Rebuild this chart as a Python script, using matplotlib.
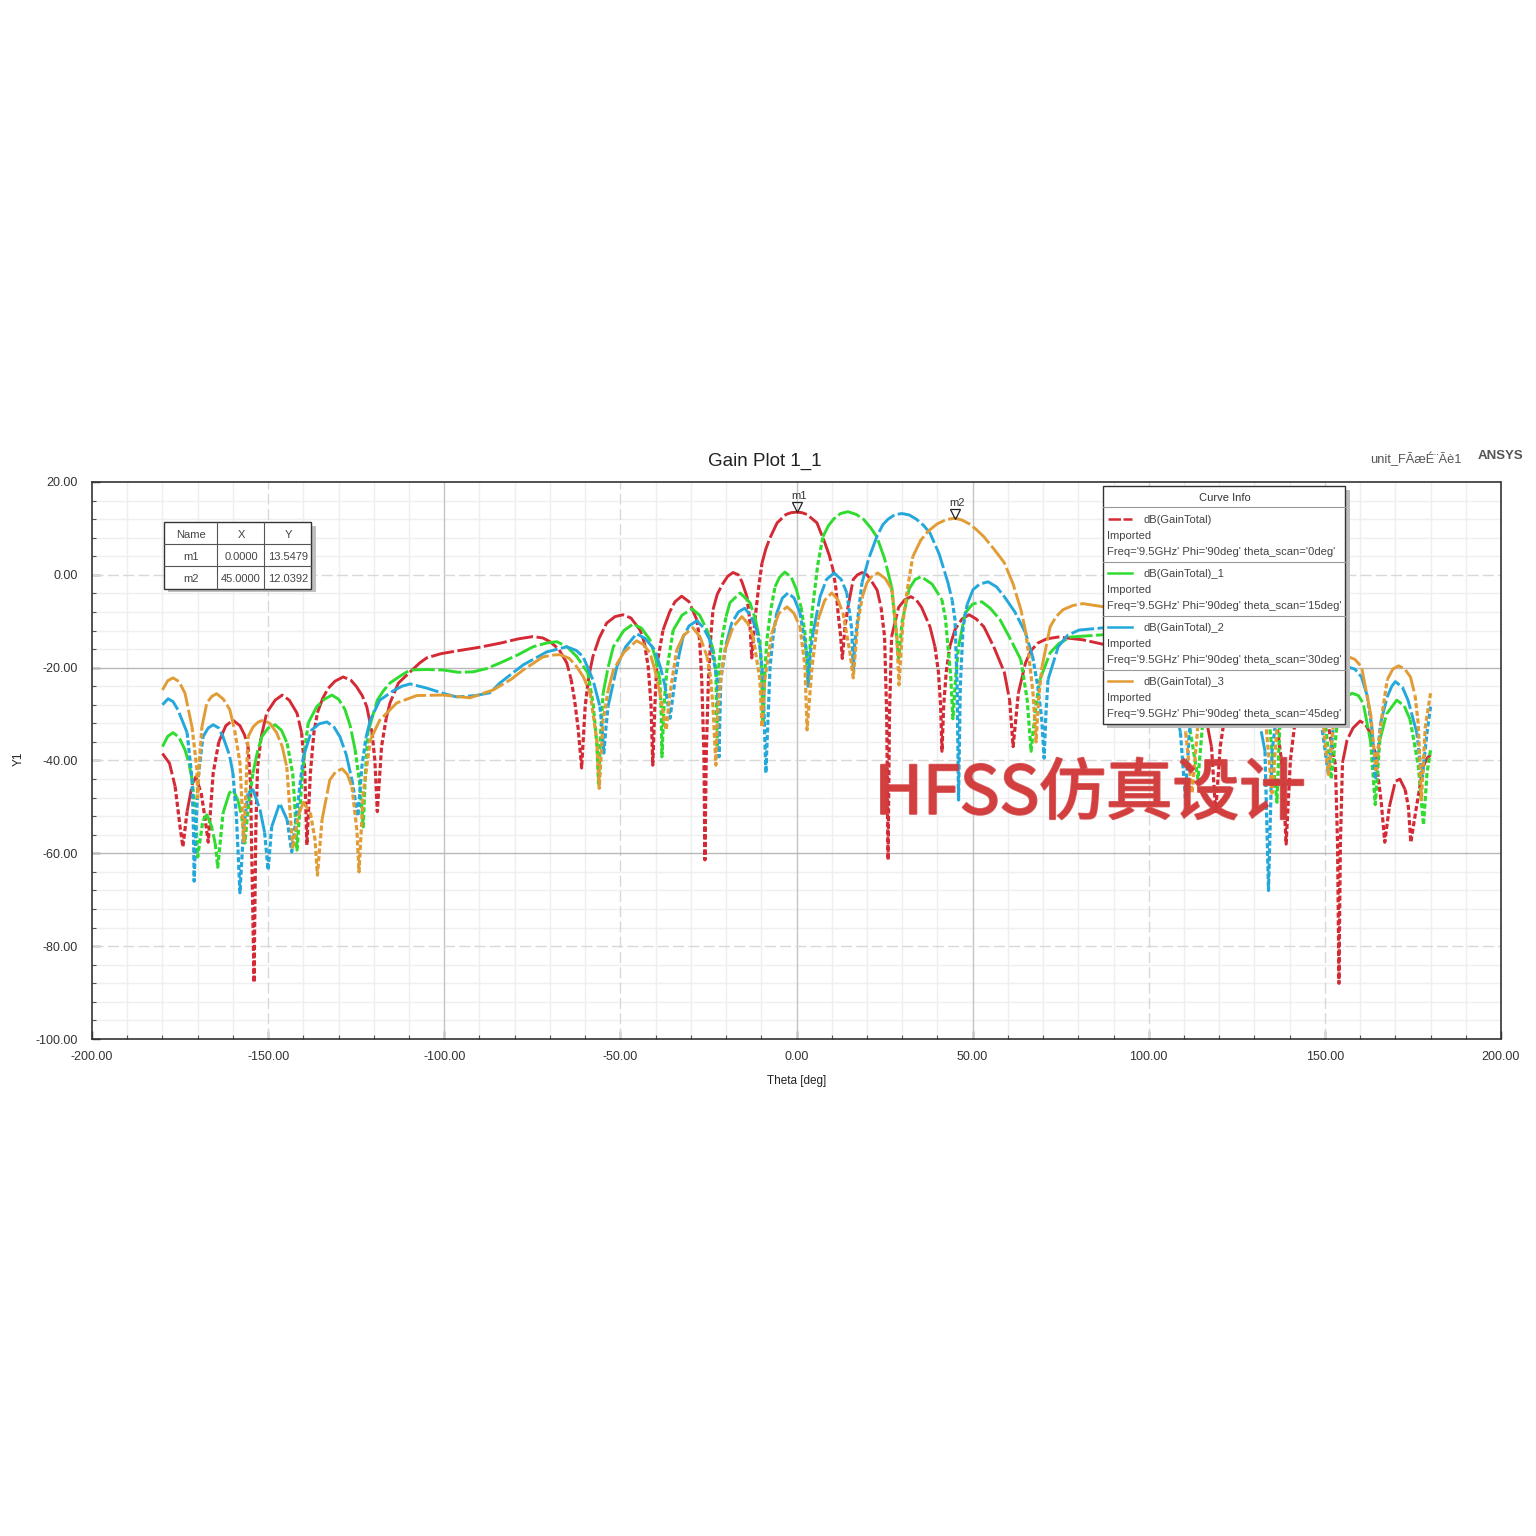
import matplotlib
matplotlib.use("Agg")
import matplotlib.pyplot as plt
import matplotlib.patheffects as pe
from matplotlib.patches import Rectangle

plt.rcParams['font.family'] = ['Liberation Sans', 'DejaVu Sans']

# theta [deg], gain [dB]
scan_0 = [(-180,-38.5),(-178,-40.6),(-176.4,-45.6),(-175,-54.3),(-174.2,-58.6),(-173,-51),(-171.5,-45),(-170.5,-43.5),
    (-169,-47),(-168,-52),(-167,-57.6),(-165.6,-42.7),(-164,-36),(-162,-32.5),(-160,-31.3),(-158,-32.5),(-156.7,-34.5),(-155.7,-37),(-155,-45),(-154,-87.8),
    (-153.5,-55),(-153,-41.4),(-152,-35),(-150.4,-29.7),(-148,-27),(-146,-25.9),(-144,-27),(-141.8,-29.8),(-140.5,-34),(-139.6,-42),(-139,-58.2),(-138,-42.7),(-137,-34),(-136,-29.7),
    (-134.5,-26.6),(-133,-24.5),(-131,-22.9),(-128.7,-22),(-126.5,-22.7),(-125,-24),(-123.3,-26),(-122,-28.4),(-120.5,-34),(-119.7,-40),(-119,-51),(-117.8,-37),(-116.5,-31),(-115.4,-27.6),(-113,-23.3),(-109.8,-21),
    (-107,-19),(-105,-17.9),(-101,-17),(-96.5,-16.4),(-90,-15.6),(-84,-14.7),(-79,-13.8),(-74.8,-13.3),(-72,-13.6),(-70,-14.4),(-67.5,-16),(-65.2,-19),(-64,-22.5),(-63,-27),(-62,-33),(-61,-41.6),(-60,-28.4),(-59,-22),(-57.8,-17.6),
    (-56,-13.6),(-53.9,-10.4),(-51.5,-9),(-49.3,-8.6),(-47,-9.3),(-44.4,-11.9),(-43.2,-14.6),(-42.1,-19.8),(-41.3,-28),(-40.8,-41),(-40.2,-28),(-39.7,-19.8),(-37.9,-11.9),(-36,-8),(-34.5,-5.8),(-32.6,-4.6),(-30.5,-5.8),(-28.3,-9.7),(-27.5,-14),(-26.9,-22.6),
    (-26.3,-38),(-26,-61.4),(-25.6,-38),(-25,-22.6),(-24.3,-13),(-23.7,-7.5),(-22.5,-4.2),(-21,-2),(-19.5,-0.3),(-18,0.5),(-16.5,0),(-15.5,-1.5),(-14.1,-4.6),(-13.3,-9.5),(-12.7,-17.9),(-11.8,-9.7),(-10.8,-3),(-9.8,2.5),(-8.7,5.6),(-7.5,8),(-5.5,11.2),
    (-3,13),(-1.5,13.4),(0,13.5),(1.5,13.4),(3,13),(5.8,11.2),(8,7),(9.3,4.2),(10.4,1),(11.2,-3),(11.8,-8.2),(12.5,-13),(13,-18),(13.8,-11),(14.6,-7),(16.1,-1),(17.3,0),(18.6,0.5),(20,0),(21,-1),(22.9,-3.3),(24,-7),(25,-13.3),
    (25.6,-30),(26,-61.4),(26.4,-30),(27,-13.3),(29,-7),(30.7,-5.4),(32.5,-4.7),(34,-5.4),(35.5,-7),(37.9,-11.2),(39.3,-15.5),(40.3,-21),(40.9,-28),(41.3,-38),(41.8,-28),(42.5,-21),(43.5,-15.5),(45,-11.8),(47,-9.5),(49,-8.6),(51,-9.5),(53.2,-11.2),
    (56,-15.5),(59,-21),(60.5,-27),(61.5,-37),(63,-25.4),(65,-19),(66.5,-16.4),(68.5,-14.7),(71,-13.8),(74.3,-13.4),(81.3,-14),(87.3,-15),(96.5,-16.4),(105,-18),(110,-21),
    (113,-23.3),(115.4,-27.6),(117.8,-37),(119,-51),(120.3,-37),(122,-28.4),(125,-24),(128.7,-22),(133,-24.5),(136,-30),(138,-42),(139,-58),
    (140.2,-40),(141.8,-30),(146,-26),(150.4,-30),(153,-41),(153.6,-58),(154,-88),(154.4,-58),(155,-40.5),(156.3,-35.6),(158,-33),(160,-31.5),(161.5,-32.2),(162.8,-34),(164,-37.5),(165,-42.7),(166,-49),
    (167,-57.6),(168.3,-50),(170,-44.5),(171.3,-44),(172.8,-46.3),(173.7,-50),(174.4,-57.6),(176,-50),(177.9,-41.4),(179,-39.5),(180,-38.8)]
scan_15 = [(-180,-37),(-178.5,-34.8),(-177,-34),(-175.3,-35),(-173.6,-37.7),(-172.5,-40.5),(-171.6,-44),(-170.7,-51),(-170,-60.8),(-168.5,-52.8),(-167.4,-51.7),(-166,-54.3),
    (-165,-58),(-164.3,-63),(-162.8,-51.3),(-161,-47),(-160,-46.3),(-158.6,-48.5),(-157.5,-52),(-156.6,-57.8),(-155.5,-49),(-154.3,-42.7),(-153,-38),(-151.8,-34.9),(-150,-33),(-148,-32.3),(-146.2,-33.5),(-144.6,-36.3),
    (-143,-43),(-142.4,-50),(-141.8,-59.3),(-140.4,-44.2),(-139.5,-37),(-138.6,-31.9),(-136.2,-28.4),(-134,-26.8),(-131.9,-25.9),(-130,-26.8),(-128.2,-29),(-126.7,-32.5),(-125.3,-37.7),(-124,-45),(-123,-54.3),(-122.4,-43),(-121.7,-34),
    (-119,-27),(-117.3,-25),(-115.4,-23.3),(-112.5,-21.8),(-109.7,-20.5),(-105,-20.4),(-100.4,-20.5),(-96,-21),(-91.8,-20.9),(-88,-20.2),(-84.2,-19),(-79,-17.2),(-74.8,-15.5),(-71,-14.7),(-68,-14.4),(-65,-15.6),(-62.4,-17.6),(-59.2,-21.2),
    (-57.7,-28),(-56.7,-36.3),(-56.2,-45),(-55.6,-34),(-54.9,-25.5),(-53.5,-20),(-52,-15.5),(-49,-12),(-46.4,-10.6),(-44,-11.5),(-41.6,-14),(-40,-18),(-38.8,-22.6),(-38.4,-30),(-38.2,-39.2),(-37.6,-28),(-36.8,-20.5),(-35,-11.9),(-32.5,-8.7),(-29.7,-7.3),
    (-27.5,-8.7),(-25.4,-11.9),(-23.7,-16),(-22.9,-20.5),(-22.5,-37),(-22.1,-20),(-21.2,-14),(-20,-9),(-18.9,-6),(-16,-3.9),(-13.2,-6),(-11.7,-9.5),(-10.4,-14),(-9.9,-21),(-9.5,-32),(-9,-21),(-8.4,-14),(-7.3,-7.5),(-6.1,-2.6),
    (-4.8,-0.5),(-3.3,0.6),(-1.5,-0.5),(0,-3.2),(1.3,-7),(2.4,-12.5),(3.3,-23),(4.4,-8.2),(6,2),(7.5,8.2),(9,10.5),(10.5,12),(12.5,13.2),(14.6,13.6),(17,13),(19,12),(21,10.2),(22.8,8.2),(25,3.5),(27,-2.6),(28.4,-13.3),(29,-18),
    (30,-10),(32,-3),(33.7,-1),(35.4,-0.4),(38.5,-2),(41.3,-5.4),(42.3,-9.5),(43,-15.5),(43.8,-22),(44.4,-31),(45.2,-22),(46,-15.5),(47.9,-8.2),(50,-6.3),(52.6,-5.8),(55,-7.2),(57.8,-9.7),(60.5,-13.5),(63.7,-18.3),(65.5,-27),
    (66.6,-38),(68,-28),(69.1,-22.6),(72,-16.8),(74.5,-14.8),(77.8,-13.4),(87.3,-12.9),(95,-13.5),(103,-15.5),(108,-21),(111,-30),(114,-44),(115.5,-30),(118,-24),(124,-18.5),
    (130,-21),(134,-30),(136.4,-49),(137.2,-32),(138.5,-26),(142,-21),(148,-24),(150,-31),(151.8,-44),(153.5,-32),(155,-27),(157.7,-25.5),(159.5,-26),(160.9,-27.7),
    (163,-36),(164.3,-49.5),(165.6,-35.6),(167.5,-30),(170.4,-27),(172.5,-28.2),(174.2,-31.2),(176.5,-41),(178,-53.9),(179,-42.7),(180,-37.7)]
scan_30 = [(-180,-28),(-178.4,-26.7),(-177,-27.3),(-175.6,-29.1),(-173,-34),(-171.6,-44),(-171.2,-55),(-171,-66),(-170.5,-55),(-169.9,-44),(-168.5,-34.9),(-167,-33),(-165.6,-32.3),(-164,-33),(-162.8,-34.9),
    (-161,-38.8),(-160,-42.7),(-159,-52),(-158,-68.5),(-157,-55),(-155.7,-47),(-154.3,-46.3),(-152.3,-50.6),(-151,-55.5),(-150,-63.6),(-149,-54.3),(-146.7,-49.2),(-144.6,-52.8),(-143.3,-59.7),
    (-141.9,-51.3),(-140,-39.2),(-137.6,-33.4),(-135.5,-32.1),(-133.3,-31.7),(-131.3,-32.8),(-129.6,-34.9),(-127.8,-38.8),(-126.2,-44.2),(-124.5,-52),(-123.4,-41.4),(-122.2,-35),(-121,-31.3),(-118.3,-27),
    (-114.5,-25),(-112,-24),(-109.7,-23.5),(-105,-24.4),(-100,-25.6),(-96.5,-26.3),(-91,-26),(-87,-25.4),(-84.2,-23.3),(-77.6,-19.4),(-70.9,-16.6),(-65.2,-15.5),(-62.5,-16.3),(-60.6,-17.6),(-57.8,-22.6),
    (-55.8,-28.4),(-55.2,-33),(-54.7,-38.4),(-54.1,-33),(-53.5,-28.4),(-51,-19.8),(-48.5,-15.5),(-45.4,-12.7),(-43,-13.7),(-40.2,-16.2),(-38.6,-20),(-37.3,-24),(-35.9,-30.9),(-34.5,-22.6),(-33.4,-17.5),(-32.2,-13.4),(-30.5,-11),(-28.3,-9.9),
    (-26.5,-11.3),(-24.6,-14),(-22.5,-22.6),(-22,-39.2),(-21.5,-22.6),(-20,-15),(-18.4,-10.4),(-16.5,-8),(-14.7,-7.2),(-13,-8.8),(-11.3,-11.9),(-10.3,-16),(-9.5,-22.6),(-8.7,-42.7),(-7.5,-19.8),(-6.6,-13),(-5.6,-8.2),
    (-4,-5),(-2.4,-3.9),(-0.7,-5),(1,-8.2),(2.9,-16.9),(3.3,-24),(3.9,-17),(4.7,-12.5),(6.7,-4.7),(8.5,-1),(10.7,0.4),(12.7,-1),(14.3,-3.9),(15.7,-11.9),(16.1,-20.5),(16.5,-15),(17,-11.9),(18.6,-1.7),
    (20.5,3.5),(22.8,8.2),(24.5,10.8),(26,12),(28,13),(30,13.2),(32,12.9),(34,12),(36,10.7),(37.9,9),(40.5,4.5),(43,-1.7),(44.2,-5.5),(45,-9.7),(45.6,-24),(46,-48.5),(46.5,-24),(47.3,-11.2),(48.5,-6.3),(50.1,-3.2),(52,-2),(54.4,-1.5),(56.8,-2.6),(59,-4.7),(62,-8),(65,-12.5),(67,-17.5),(68.5,-24),
    (69.6,-31),(70.3,-39.5),(70.8,-30),(71.4,-22.6),(74.3,-15.5),(77,-13),(80.2,-11.9),(87.3,-11.4),(95,-12),(102,-15),(106,-22),(109,-34),(110.4,-48),(111.5,-34),(114,-22),(120,-16),
    (126,-18),(130,-26),(133,-38),(134,-68),(135,-38),(137,-26),(142,-20),(147,-22),(149,-32),(151,-43),(152.5,-32),(154.5,-22),(156.3,-19.8),(158.5,-20.3),(160.4,-22),(162,-26),
    (163.3,-32.8),(164.3,-44),(165.8,-32),(167.7,-26.3),(169,-24),(170,-23),(172,-24.2),(173.6,-27),(176.1,-34),(177.6,-44),(179,-34),(180,-28.4)]
scan_45 = [(-180,-24.8),(-178.5,-22.8),(-177,-22.2),(-175.3,-23),(-173.6,-25.5),(-171.6,-32.8),(-170.2,-42),(-170,-48),(-169.5,-40),(-168.8,-32.8),(-167.4,-27.6),(-166,-26.2),(-164.6,-25.6),
    (-162.7,-26.8),(-160.9,-29),(-159.5,-33.5),(-158,-40.5),(-156.9,-57.5),(-155.7,-34.9),(-154.3,-32.8),(-152.8,-31.7),(-151.4,-31.3),(-149.5,-32),(-147.6,-34),(-146,-37),(-144.7,-41.4),(-143,-59),(-141.5,-52),(-140,-49),(-138,-51.3),
    (-136.7,-57),(-136,-64.7),(-134.7,-52.8),(-132.5,-44.2),(-130.8,-42.4),(-129,-41.8),(-127.5,-43),(-126.2,-45.7),(-124.8,-55),(-124.2,-64),(-123,-47),(-121,-35.6),(-118.3,-31.3),(-113.5,-27.6),
    (-107.8,-26),(-100.3,-25.9),(-92.7,-26.5),(-86.1,-24.8),(-81,-22.5),(-77.6,-20.5),(-72,-17.7),(-69.5,-17.3),(-67.1,-17.2),(-64.5,-18),(-62.4,-19.8),(-60.5,-22),(-58.6,-25.4),(-56.7,-35.6),(-56,-46),
    (-54.9,-31.3),(-53.5,-25),(-52,-20.5),(-49,-16.7),(-45.4,-14.2),(-43.5,-15),(-41.6,-16.8),(-40.2,-20.5),(-38.8,-25.5),(-37,-33.4),(-35.9,-25.4),(-34,-16.2),(-32,-13),(-29.4,-11.4),(-27.3,-13.5),(-25.4,-17.6),(-24.4,-22),(-23.7,-28.4),
    (-22.9,-41),(-22.3,-28.4),(-21.3,-21),(-20.3,-16.2),(-18,-11.2),(-15.5,-9),(-13.8,-10.5),(-12.3,-13.4),(-10.4,-22.6),(-9.8,-32.8),(-9,-22.6),(-7,-12.5),(-5,-8.3),(-2.7,-6.9),(-0.8,-8.2),(1,-11.2),(2.4,-19.8),
    (3,-33.4),(4.4,-19.8),(6.1,-9.7),(8,-5.5),(10,-3.9),(11.7,-5.3),(13.2,-8.2),(15.2,-16.9),(16.1,-22.2),(17.4,-10.3),(18.7,-4.7),(20,-1.7),(21.5,-0.2),(23.1,0.4),(25.2,-0.8),(27.1,-3.2),(28.5,-13.3),(29.1,-23.7),
    (30.2,-10.3),(31.5,-3),(33,3.9),(35.3,7.5),(37.5,9.5),(40,11),(42.5,11.9),(45,12.2),(47,11.8),(49,11),(51,9.8),(53.2,8.2),(56,5.6),(59,2.6),(61.5,-2),(63.7,-7.5),(65,-12),(66,-17.7),(67.2,-26),(68,-36),(68.8,-26),(69.7,-19.8),(72,-11.2),(73.7,-9),(75.7,-7.5),
    (78.5,-6.6),(81.3,-6.2),(87.3,-6.9),(95,-8),(102,-12),(107,-22),(110.5,-34),(112.3,-47),(114,-32),(117,-22),(123,-15),(129,-18),(133,-30),(135,-47),(136.5,-32),
    (140,-20),(146,-16),(149,-28),(151,-43),(153,-28),(155,-19),(156.8,-17.7),(158.5,-18.2),(160.4,-19.8),(163,-30),(164.5,-42),(166.3,-29.7),(167.7,-22.6),(169.3,-20.3),(170.9,-19.6),
    (172.7,-20.3),(174.3,-22),(175.6,-26),(176.5,-32),(177.4,-48.5),(178.5,-32.8),(180,-25.5)]

series = [scan_0, scan_15, scan_30, scan_45]
colors = ['#d42a35', '#2fdc2f', '#24a8dc', '#e29c36']
legend_names = ['dB(GainTotal)', 'dB(GainTotal)_1', 'dB(GainTotal)_2', 'dB(GainTotal)_3']
legend_scans = ['0deg', '15deg', '30deg', '45deg']

marker_names = ['m1', 'm2']
marker_x = [0.0, 45.0]
marker_y = [13.5479, 12.0392]

x_ticks = [-200, -150, -100, -50, 0, 50, 100, 150, 200]
y_ticks = [20, 0, -20, -40, -60, -80, -100]
W = 1536.0

fig = plt.figure(figsize=(15.36, 15.36), dpi=100, facecolor='white')
ax = fig.add_axes([92/W, 1-1039/W, (1501-92)/W, (1039-482)/W])
ax.set_xlim(-200, 200)
ax.set_ylim(-100, 20)

# grid
ax.set_xticks(range(-200, 201, 10), minor=True)
ax.set_yticks(range(-100, 21, 4), minor=True)
ax.set_xticks(x_ticks)
ax.set_yticks(y_ticks)
ax.set_xticklabels(['%.2f' % t for t in x_ticks], fontsize=9, color='#333333')
ax.set_yticklabels(['%.2f' % t for t in y_ticks], fontsize=9, color='#333333')
ax.tick_params(axis='x', which='major', direction='in', length=6, width=1, pad=9, color='#333333')
ax.tick_params(axis='y', which='major', direction='in', length=6, width=1, pad=10, color='#333333')
ax.tick_params(axis='both', which='minor', direction='in', length=3, width=0.8, color='#555555')
ax.grid(which='minor', color='#efefef', lw=1)
for t in x_ticks[1:-1]:
    solid = t in (-100, 0, 50)
    ax.axvline(t, color='#c4c4c4' if solid else '#d8d8d8', lw=1, ls='-' if solid else (0, (8, 3)), zorder=1)
for t in y_ticks[1:-1]:
    solid = t in (-20, -60)
    ax.axhline(t, color='#b8b8b8' if solid else '#d8d8d8', lw=1, ls='-' if solid else (0, (8, 3)), zorder=1)
for s in ax.spines.values():
    s.set_color('#333333')
    s.set_linewidth(1.2)
    s.set_linestyle((0, (8, 1)))
ax.set_axisbelow(True)

# steep parts near the nulls come out dotted in the original, the rest long dashed
for pts, c in zip(series, colors):
    theta, gain = zip(*pts)
    start = 0
    for i in range(len(theta) - 1):
        steep = abs(gain[i+1] - gain[i]) > 4.0 * abs(theta[i+1] - theta[i])
        last = i == len(theta) - 2
        next_steep = False
        if not last:
            next_steep = abs(gain[i+2] - gain[i+1]) > 4.0 * abs(theta[i+2] - theta[i+1])
        if last or next_steep != steep:
            ax.plot(theta[start:i+2], gain[start:i+2], color=c, lw=2.3 if steep else 2.1,
                    ls=(0, (1.6, 0.8)) if steep else (0, (8, 1.2)),
                    dash_capstyle='butt', zorder=3)
            start = i + 1

# markers
for name, mx, my in zip(marker_names, marker_x, marker_y):
    ax.plot([mx], [my + 1.1], marker='v', ms=7, mfc='none', mec='#222222', mew=0.9, ls='none', zorder=6)
    ax.text(mx + 0.6, my + 2.3, name, fontsize=8, ha='center', va='bottom', color='#333333', zorder=6)

ax.set_xlabel('Theta [deg]', fontsize=8.5, labelpad=8, color='#222222')
ax.set_ylabel('Y1', fontsize=8.5, color='#222222')
ax.yaxis.set_label_coords(-0.0475, 0.503)

# overlay in pixels for title, table, legend and watermark
ov = fig.add_axes([0, 0, 1, 1], zorder=5)
ov.set_xlim(0, W)
ov.set_ylim(W, 0)
ov.axis('off')
ov.patch.set_alpha(0)

ov.text(765, 461, 'Gain Plot 1_1', fontsize=13.5, ha='center', va='center', color='#222222')
ov.text(1416, 459, 'unit_FÃæÉ¨Ãè1', fontsize=9.3, ha='center', va='center', color='#555555')
ov.text(1500, 456, 'ANSYS', fontsize=9.5, fontweight='bold', ha='center', va='center', color='#555555')

wm = ov.text(1090, 795, 'HFSS仿真设计', fontsize=48, ha='center', va='center', color='#d23c3c', alpha=0.85,
             family=['Noto Sans CJK SC', 'DejaVu Sans'], zorder=2)
wm.set_path_effects([pe.withStroke(linewidth=1.6, foreground='#d23c3c', alpha=0.85)])

# marker table
ov.add_patch(Rectangle((168, 526), 148, 66, fc='#c0c0c0', ec='none', zorder=3))
ov.add_patch(Rectangle((164, 522), 147, 67, fc='white', ec='#333333', lw=1, zorder=4))
for yy in (544, 566):
    ov.plot([164, 311], [yy, yy], color='#555555', lw=0.8, zorder=5)
for xx in (217, 264):
    ov.plot([xx, xx], [522, 589], color='#555555', lw=0.8, zorder=5)
col_x = [191, 241, 288]
for xx, s in zip(col_x, ['Name', 'X', 'Y']):
    ov.text(xx, 535, s, fontsize=8, ha='center', va='center', color='#444444', zorder=5)
for yy, name, mx, my in zip((557, 579), marker_names, marker_x, marker_y):
    ov.text(col_x[0], yy, name, fontsize=8, ha='center', va='center', color='#444444', zorder=5)
    ov.text(col_x[1], yy, '%.4f' % mx, fontsize=8, ha='center', va='center', color='#444444', zorder=5)
    ov.text(col_x[2], yy, '%.4f' % my, fontsize=8, ha='center', va='center', color='#444444', zorder=5)

# curve info box
ov.add_patch(Rectangle((1107, 490), 243, 238, fc='#bdbdbd', ec='none', zorder=3))
ov.add_patch(Rectangle((1103, 486), 242, 238, fc='white', ec='#333333', lw=1, zorder=4))
ov.text(1225, 498, 'Curve Info', fontsize=8, ha='center', va='center', color='#333333', zorder=5)
ov.plot([1103, 1345], [507, 507], color='#999999', lw=0.8, zorder=5)
for i in range(4):
    y0 = 520 + 54*i
    ov.plot([1108, 1132], [y0 - 1, y0 - 1], color=colors[i], lw=1.8, ls=(0, (5, 1)) if i == 0 else '-', zorder=5)
    ov.text(1143, y0, legend_names[i], fontsize=8, va='center', color='#444444', zorder=5)
    ov.text(1107, y0 + 16, 'Imported', fontsize=8, va='center', color='#444444', zorder=5)
    ov.text(1107, y0 + 32, "Freq='9.5GHz' Phi='90deg' theta_scan='%s'" % legend_scans[i],
            fontsize=8.1, va='center', color='#444444', zorder=5)
    if i < 3:
        ov.plot([1103, 1345], [y0 + 42, y0 + 42], color='#999999', lw=0.8, zorder=5)

fig.savefig('out.png', dpi=100)
